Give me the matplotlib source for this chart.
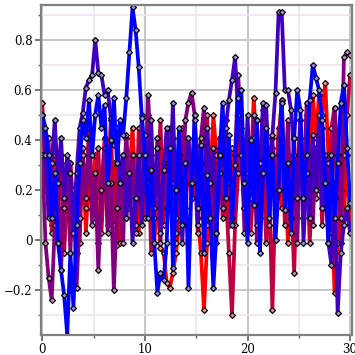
import numpy as np
import matplotlib
matplotlib.use("Agg")
import matplotlib.pyplot as plt
from matplotlib.ticker import MultipleLocator, FuncFormatter

x = np.linspace(0, 30, 100)

red = [0.50, 0.42, 0.27, 0.06, 0.34, 0.17, -0.01, 0.23, 0.09, 0.31,
       0.13, -0.05, 0.20, 0.37, 0.03, 0.27, 0.12, 0.34, -0.01, 0.17,
       0.41, 0.06, 0.23, 0.31, -0.02, 0.17, 0.34, 0.09, 0.27, 0.45,
       0.20, 0.03, 0.34, 0.13, 0.50, 0.23, -0.01, 0.17, -0.03, -0.05,
       -0.17, -0.19, -0.13, -0.05, 0.06, 0.31, 0.13, 0.41, 0.20, 0.34,
       0.09, -0.05, -0.28, -0.01, 0.23, 0.50, 0.34, 0.17, 0.48, 0.27,
       0.06, 0.37, 0.20, 0.55, 0.31, 0.13, 0.41, 0.23, 0.57, 0.34,
       0.17, 0.48, 0.27, 0.06, 0.37, 0.20, 0.45, 0.13, 0.31, -0.01,
       0.23, 0.41, 0.09, 0.34, 0.17, 0.50, 0.27, 0.58, 0.41, 0.58,
       0.50, 0.63, 0.34, 0.13, -0.21, -0.01, 0.20, 0.09, 0.34, 0.06]

crimson = [0.55, 0.20, 0.41, 0.03, 0.27, 0.13, 0.34, -0.05, 0.17, 0.31,
           0.06, 0.23, -0.01, 0.34, 0.13, 0.45, 0.20, 0.09, 0.37, 0.03,
           0.27, 0.17, 0.48, 0.06, 0.31, -0.01, 0.23, 0.41, 0.13, 0.34,
           0.03, 0.45, 0.20, 0.09, 0.37, -0.05, 0.27, 0.17, 0.48, 0.06,
           0.31, 0.13, 0.41, -0.01, 0.23, 0.45, 0.09, 0.34, 0.17, 0.27,
           0.03, 0.37, 0.20, 0.50, 0.13, 0.31, -0.01, 0.41, 0.09, 0.20,
           -0.05, -0.30, 0.06, 0.27, 0.45, 0.13, 0.34, 0.03, 0.23, 0.48,
           0.09, 0.31, -0.01, 0.17, -0.28, 0.20, 0.41, 0.56, 0.06, 0.34,
           0.20, -0.13, 0.27, 0.48, 0.09, 0.34, -0.01, 0.23, 0.17, 0.41,
           0.06, 0.31, 0.13, 0.45, 0.53, 0.20, -0.01, 0.34, 0.50, 0.66]

purple = [0.34, -0.01, -0.15, -0.24, 0.06, 0.23, -0.12, 0.13, 0.31, -0.05,
          0.20, -0.19, 0.09, 0.34, 0.17, 0.41, 0.06, 0.27, -0.12, 0.20,
          0.37, 0.03, 0.23, -0.20, 0.13, 0.31, -0.01, 0.42, 0.17, 0.34,
          0.06, 0.27, 0.50, 0.20, 0.58, 0.34, 0.09, 0.41, -0.01, 0.31,
          0.13, 0.45, 0.23, 0.03, 0.34, 0.17, 0.48, 0.55, 0.59, 0.50,
          0.27, 0.41, 0.53, 0.06, 0.31, -0.05, 0.20, 0.37, 0.13, 0.48,
          0.23, 0.09, 0.34, 0.66, 0.41, 0.03, 0.27, 0.17, 0.50, -0.01,
          0.20, 0.52, 0.31, 0.06, 0.41, 0.13, 0.34, 0.56, 0.23, 0.48,
          0.09, 0.31, -0.01, 0.41, 0.17, 0.55, 0.27, 0.06, 0.37, 0.20,
          0.45, 0.13, 0.31, 0.03, 0.53, 0.34, 0.09, 0.73, 0.75, 0.74]

indigo = [0.50, 0.34, 0.09, 0.31, 0.48, 0.23, 0.41, 0.17, 0.34, 0.27,
          0.03, 0.27, 0.45, 0.51, 0.61, 0.64, 0.66, 0.80, 0.67, 0.66,
          0.58, 0.60, 0.49, 0.38, 0.45, 0.23, 0.34, 0.09, 0.27, -0.01,
          0.17, 0.34, 0.06, 0.42, 0.23, 0.48, 0.13, 0.37, 0.03, 0.28,
          0.45, 0.20, 0.55, 0.09, 0.34, -0.01, 0.23, 0.41, 0.17, 0.50,
          0.06, 0.31, 0.13, 0.45, 0.23, 0.37, 0.03, 0.27, 0.34, 0.45,
          0.56, 0.64, 0.73, 0.50, 0.34, 0.13, 0.50, 0.20, 0.41, 0.06,
          0.31, 0.55, 0.54, 0.23, 0.42, 0.59, 0.91, 0.91, 0.60, 0.60,
          0.52, 0.34, 0.17, 0.48, -0.01, 0.27, 0.09, 0.42, 0.20, 0.50,
          0.13, 0.34, -0.01, -0.10, 0.17, -0.29, -0.05, 0.06, 0.13, 0.03]

blue = [0.50, 0.45, 0.34, 0.09, 0.27, -0.01, -0.12, -0.22, -0.38, -0.05,
        -0.27, 0.06, 0.31, 0.48, 0.41, 0.56, 0.34, 0.50, 0.58, 0.45,
        0.54, 0.23, 0.40, 0.57, 0.31, 0.48, 0.42, 0.57, 0.75, 0.93,
        0.84, 0.69, 0.49, 0.34, 0.09, 0.28, -0.01, -0.21, -0.13, -0.16,
        -0.01, 0.37, -0.11, 0.20, 0.45, 0.06, 0.31, -0.19, 0.23, 0.48,
        0.13, 0.38, -0.05, 0.26, 0.09, -0.19, 0.03, 0.34, 0.55, 0.17,
        0.42, 0.06, 0.30, 0.57, 0.60, 0.23, -0.01, 0.40, 0.14, 0.48,
        -0.05, 0.27, 0.45, 0.09, 0.34, 0.00, 0.20, 0.55, 0.12, 0.31,
        0.03, 0.41, 0.60, 0.52, 0.17, 0.34, 0.56, 0.70, 0.65, 0.60,
        0.48, 0.23, -0.01, 0.34, 0.09, 0.31, 0.55, 0.62, 0.37, 0.15]

series = [red, crimson, purple, indigo, blue]
colors = ["#ff0000", "#bf0040", "#800080", "#4000bf", "#0000ff"]

fig = plt.figure(figsize=(3.55, 3.55), dpi=100)
ax = fig.add_axes([0.115, 0.056, 0.877, 0.930])

for ys, c in zip(series, colors):
    rgb = np.array(matplotlib.colors.to_rgb(c))
    light = 0.45 * rgb + 0.55
    ax.plot(x, ys, color=c, lw=2.7, marker="D", ms=3.0,
            mec="black", mew=0.9, mfc=light, solid_joinstyle="round")

ax.set_xlim(-0.15, 30.2)
ax.set_ylim(-0.38, 0.94)

ax.xaxis.set_major_locator(MultipleLocator(10))
ax.xaxis.set_minor_locator(MultipleLocator(5))
ax.yaxis.set_major_locator(MultipleLocator(0.2))
ax.yaxis.set_minor_locator(MultipleLocator(0.1))

def yfmt(v, pos):
    if abs(v) < 1e-9:
        return "0"
    s = f"{abs(v):.1f}"
    return ("\u2212" + s) if v < 0 else s

ax.yaxis.set_major_formatter(FuncFormatter(yfmt))
ax.xaxis.set_major_formatter(FuncFormatter(lambda v, p: f"{int(round(v))}"))

ax.set_axisbelow(True)
ax.grid(which="major", color="#bdbdbd", lw=1.2)
ax.grid(which="minor", color="#f0e4f0", lw=1.2)

for s in ax.spines.values():
    s.set_color("#808080")
    s.set_linewidth(1.6)

ax.tick_params(which="major", direction="out", length=4, width=1.2,
               color="#606060", labelsize=8.5, pad=2)
ax.tick_params(which="minor", direction="out", length=2, width=1.0,
               color="#606060")
for lab in ax.get_xticklabels() + ax.get_yticklabels():
    lab.set_family("DejaVu Serif")

fig.savefig("out.png", dpi=100)
